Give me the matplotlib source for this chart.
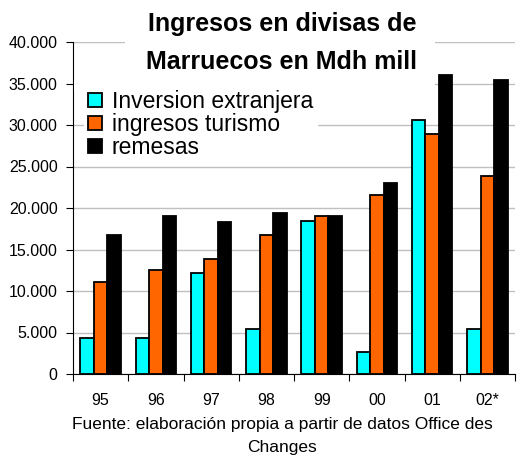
import matplotlib
matplotlib.use('Agg')
import matplotlib.pyplot as plt
from matplotlib.patches import Rectangle
import numpy as np

plt.rcParams['font.family'] = ['Liberation Sans', 'DejaVu Sans']

years = ['95', '96', '97', '98', '99', '00', '01', '02*']
inversion = [4300, 4300, 12200, 5400, 18400, 2600, 30600, 5400]
turismo = [11100, 12500, 13900, 16800, 19000, 21600, 28900, 23900]
remesas = [16800, 19000, 18300, 19400, 19000, 23000, 36000, 35400]
series_names = ['Inversion extranjera', 'ingresos turismo', 'remesas']
colors = ['#00FFFF', '#FF6600', '#000000']

W, H = 518, 457
fig = plt.figure(figsize=(W / 100, H / 100), dpi=100)
ax = fig.add_axes([73 / W, 1 - 374 / H, 442 / W, 332 / H])

x = np.arange(len(years))
w = 0.245
for i, (vals, name, c) in enumerate(zip([inversion, turismo, remesas], series_names, colors)):
    ax.bar(x + (i - 1) * w, vals, width=w, color=c, edgecolor='black',
           linewidth=1.3, label=name, zorder=3)

ax.set_xlim(-0.5, len(years) - 0.5)
ax.set_ylim(0, 40000)
ax.set_yticks(np.arange(0, 40001, 5000))
ax.set_yticklabels([f'{v:,}'.replace(',', '.') for v in range(0, 40001, 5000)], fontsize=11.5)
ax.yaxis.grid(True, color='#c0c0c0', linewidth=1, zorder=0)
ax.set_axisbelow(True)

# ticks between groups, labels centred under groups
ax.set_xticks(np.arange(-0.5, len(years), 1))
ax.set_xticklabels([])
ax.set_xticks(x, minor=True)
ax.set_xticklabels(years, minor=True, fontsize=11.5)
ax.tick_params(axis='x', which='minor', length=0, pad=14)
ax.tick_params(axis='x', which='major', length=5, direction='out')
ax.tick_params(axis='y', length=5, direction='out', pad=6)

for s in ['top', 'right']:
    ax.spines[s].set_visible(False)

leg = ax.legend(loc='upper left', bbox_to_anchor=(0.026, 0.865), frameon=True,
                fontsize=16.5, handlelength=0.6, handleheight=0.6,
                handletextpad=0.45, labelspacing=0.0, borderpad=0.15,
                borderaxespad=0.0)
leg.get_frame().set_edgecolor('white')
leg.get_frame().set_facecolor('white')
leg.get_frame().set_alpha(1)
leg.get_frame().set_boxstyle('square', pad=0)

# white panel behind the title, hiding the top gridlines
fig.add_artist(Rectangle((125 / W, 1 - 90 / H), 310 / W, 60 / H,
                         transform=fig.transFigure, facecolor='white',
                         edgecolor='none', zorder=2))
fig.add_artist(Rectangle((74 / W, 1 - 92 / H), 60 / W, 12 / H,
                         transform=fig.transFigure, facecolor='white',
                         edgecolor='none', zorder=2))

fig.text(282 / W, 1 - 43 / H, 'Ingresos en divisas de\nMarruecos en Mdh mill',
         ha='center', va='center', fontsize=18, fontweight='bold',
         linespacing=1.7, zorder=3)

fig.text(282 / W, 1 - 436 / H, 'Fuente: elaboración propia a partir de datos Office des\nChanges',
         ha='center', va='center', fontsize=12.5, linespacing=1.6)

fig.savefig('out.png', dpi=100)
